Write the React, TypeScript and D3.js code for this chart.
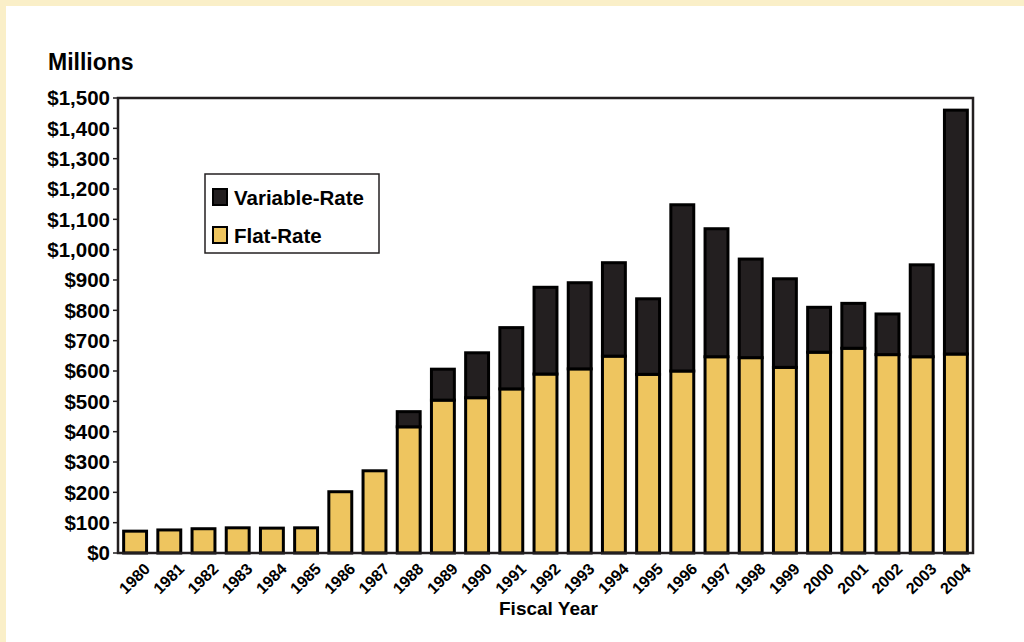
import { useEffect, useRef } from "react";
import * as d3 from "d3";

const years = [
  "1980", "1981", "1982", "1983", "1984", "1985", "1986", "1987", "1988",
  "1989", "1990", "1991", "1992", "1993", "1994", "1995", "1996", "1997",
  "1998", "1999", "2000", "2001", "2002", "2003", "2004",
];

// Flat-rate portion (millions)
const flatRate = [
  72, 76, 80, 83, 82, 83, 202, 271, 416, 504, 512, 541, 590, 607, 649, 589,
  600, 647, 644, 612, 662, 675, 654, 647, 656,
];

// Variable-rate portion (millions), stacked on top
const variableRate = [
  0, 0, 0, 0, 0, 0, 0, 0, 50, 102, 148, 202, 286, 284, 308, 249, 548, 422,
  325, 292, 148, 148, 134, 303, 804,
];

const yTicks = d3.range(0, 1501, 100);

const YELLOW = "#EEC55F";
const DARK = "#231F20";
const CREAM = "#FAEFC8";
const FONT = "'Liberation Sans', Arial, Helvetica, sans-serif";

export default function App() {
  const svgRef = useRef<SVGSVGElement>(null);

  useEffect(() => {
    if (!svgRef.current) return;
    document.body.style.margin = "0";

    const svg = d3.select(svgRef.current);
    svg.selectAll("*").remove();

    const width = 1024;
    const height = 642;
    const left = 118;
    const right = 973;
    const top = 98;
    const bottom = 553;

    // background + cream frame
    svg.append("rect").attr("width", width).attr("height", height).attr("fill", CREAM);
    svg.append("rect").attr("x", 6).attr("y", 6).attr("width", width - 6).attr("height", height - 6).attr("fill", "#fff");

    const x = d3.scaleBand<string>().domain(years).range([left, right]).paddingInner(0.33).paddingOuter(0.165);
    const y = d3.scaleLinear().domain([0, 1500]).range([bottom, top]);

    const g = svg.append("g").attr("font-family", FONT).attr("font-weight", "bold");

    // bars
    years.forEach((yr, i) => {
      const f = flatRate[i];
      const v = variableRate[i];
      g.append("rect")
        .attr("x", x(yr)!)
        .attr("width", x.bandwidth())
        .attr("y", y(f))
        .attr("height", y(0) - y(f))
        .attr("fill", YELLOW)
        .attr("stroke", "#000")
        .attr("stroke-width", 3);
      if (v > 0) {
        g.append("rect")
          .attr("x", x(yr)!)
          .attr("width", x.bandwidth())
          .attr("y", y(f + v))
          .attr("height", y(f) - y(f + v))
          .attr("fill", DARK)
          .attr("stroke", "#000")
          .attr("stroke-width", 3);
      }
    });

    // frame
    g.append("rect")
      .attr("x", left)
      .attr("y", top)
      .attr("width", right - left)
      .attr("height", bottom - top)
      .attr("fill", "none")
      .attr("stroke", DARK)
      .attr("stroke-width", 2.5);

    // y ticks and labels
    yTicks.forEach((t) => {
      g.append("line")
        .attr("x1", left - 5)
        .attr("x2", left)
        .attr("y1", y(t))
        .attr("y2", y(t))
        .attr("stroke", DARK)
        .attr("stroke-width", 1.5);
      g.append("text")
        .attr("x", left - 8)
        .attr("y", y(t))
        .attr("dy", "0.36em")
        .attr("text-anchor", "end")
        .attr("font-size", 20.5)
        .attr("fill", "#000")
        .text("$" + d3.format(",")(t));
    });

    // x labels
    years.forEach((yr) => {
      const cx = x(yr)! + x.bandwidth() / 2;
      g.append("text")
        .attr("transform", `translate(${cx + 8},${bottom + 9}) rotate(-45)`)
        .attr("text-anchor", "end")
        .attr("dy", "0.7em")
        .attr("font-size", 16)
        .attr("fill", "#000")
        .text(yr);
    });

    g.append("text")
      .attr("x", 48)
      .attr("y", 70)
      .attr("font-size", 23)
      .attr("fill", "#000")
      .text("Millions");

    g.append("text")
      .attr("x", (left + right) / 2 + 3)
      .attr("y", 615)
      .attr("text-anchor", "middle")
      .attr("font-size", 19)
      .attr("fill", "#000")
      .text("Fiscal Year");

    // legend
    const lg = g.append("g");
    lg.append("rect")
      .attr("x", 205)
      .attr("y", 174)
      .attr("width", 174)
      .attr("height", 79)
      .attr("fill", "#fff")
      .attr("stroke", DARK)
      .attr("stroke-width", 1.5);
    const items = [
      { label: "Variable-Rate", color: DARK, y: 205 },
      { label: "Flat-Rate", color: YELLOW, y: 243 },
    ];
    items.forEach((it) => {
      lg.append("rect")
        .attr("x", 213)
        .attr("y", it.y - 16)
        .attr("width", 14)
        .attr("height", 16)
        .attr("fill", it.color)
        .attr("stroke", "#000")
        .attr("stroke-width", 2);
      lg.append("text")
        .attr("x", 234)
        .attr("y", it.y)
        .attr("font-size", 20.5)
        .attr("fill", "#000")
        .text(it.label);
    });
  }, []);

  return (
    <svg
      ref={svgRef}
      width={1024}
      height={642}
      style={{ display: "block", position: "absolute", left: 0, top: 0 }}
    />
  );
}
